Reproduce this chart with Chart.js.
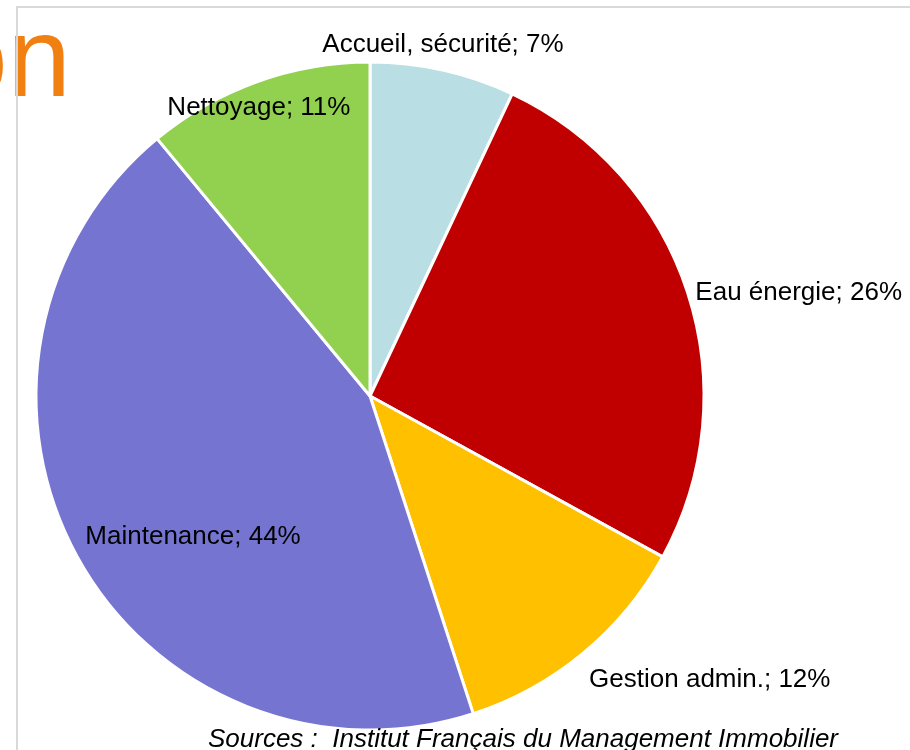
<!DOCTYPE html>
<html lang="fr">
<head>
<meta charset="utf-8">
<title>Répartition des coûts</title>
<script src="https://cdn.jsdelivr.net/npm/chart.js@4/dist/chart.umd.min.js"></script>
<style>
  html, body { margin: 0; padding: 0; background: #fff; }
  #costChart { position: absolute; left: 0; top: 0; }
</style>
</head>
<body>
<canvas id="costChart" width="910" height="750"></canvas>
<script>
// Cost breakdown (percent of total)
const categories = ["Accueil, sécurité", "Eau énergie", "Gestion admin.", "Maintenance", "Nettoyage"];
const shares = [7, 26, 12, 44, 11];
const sliceColors = ["#B9DFE4", "#C00000", "#FFC000", "#7575D1", "#92D050"];

// label placement around each slice: radius as a fraction of the pie radius,
// angle shift (degrees) from the slice's middle
const labelPlacement = [
  { r: 1.073, dAngle: -0.85 },
  { r: 1.32, dAngle: 4.5 },
  { r: 1.326, dAngle: -10.5 },
  { r: 0.677, dAngle: -9.7 },
  { r: 0.924, dAngle: -1.3 },
];

const FONT = '"Liberation Sans", Arial, sans-serif';

const sliceLabels = {
  id: "sliceLabels",
  afterDatasetsDraw(chart) {
    const ctx = chart.ctx;
    const arcs = chart.getDatasetMeta(0).data;
    ctx.save();
    ctx.font = "26px " + FONT;
    ctx.fillStyle = "#000";
    ctx.textAlign = "center";
    ctx.textBaseline = "middle";
    arcs.forEach((arc, i) => {
      const p = labelPlacement[i];
      const mid = (arc.startAngle + arc.endAngle) / 2 + (p.dAngle * Math.PI) / 180;
      const r = arc.outerRadius * p.r;
      const x = arc.x + Math.cos(mid) * r;
      const y = arc.y + Math.sin(mid) * r;
      ctx.fillText(categories[i] + "; " + shares[i] + "%", x, y);
    });
    ctx.restore();
  },
};

// slide decoration: clipped orange title, source line, frame
const slideDecor = {
  id: "slideDecor",
  beforeDraw(chart) {
    const ctx = chart.ctx;
    ctx.save();
    ctx.font = "114px " + FONT;
    ctx.fillStyle = "#F08012";
    ctx.textAlign = "right";
    ctx.textBaseline = "alphabetic";
    ctx.fillText("on", 71, 96);
    ctx.restore();
  },
  afterDraw(chart) {
    const ctx = chart.ctx;
    ctx.save();
    ctx.font = "italic 26px " + FONT;
    ctx.fillStyle = "#000";
    ctx.textAlign = "center";
    ctx.textBaseline = "alphabetic";
    ctx.fillText("Sources :  Institut Français du Management Immobilier", 523, 747);

    ctx.strokeStyle = "#D9D9D9";
    ctx.lineWidth = 2;
    ctx.beginPath();
    ctx.moveTo(910, 7);
    ctx.lineTo(17, 7);
    ctx.lineTo(17, 750);
    ctx.stroke();
    ctx.restore();
  },
};

const ctx = document.getElementById("costChart");
new Chart(ctx, {
  type: "pie",
  data: {
    labels: categories,
    datasets: [
      {
        data: shares,
        backgroundColor: sliceColors,
        borderColor: "#FFFFFF",
        borderWidth: 3,
      },
    ],
  },
  options: {
    responsive: false,
    animation: false,
    radius: 334,
    layout: {
      padding: { left: 37, top: 63, right: 207, bottom: 21 },
    },
    plugins: {
      legend: { display: false },
      tooltip: { enabled: false },
    },
  },
  plugins: [slideDecor, sliceLabels],
});
</script>
</body>
</html>
